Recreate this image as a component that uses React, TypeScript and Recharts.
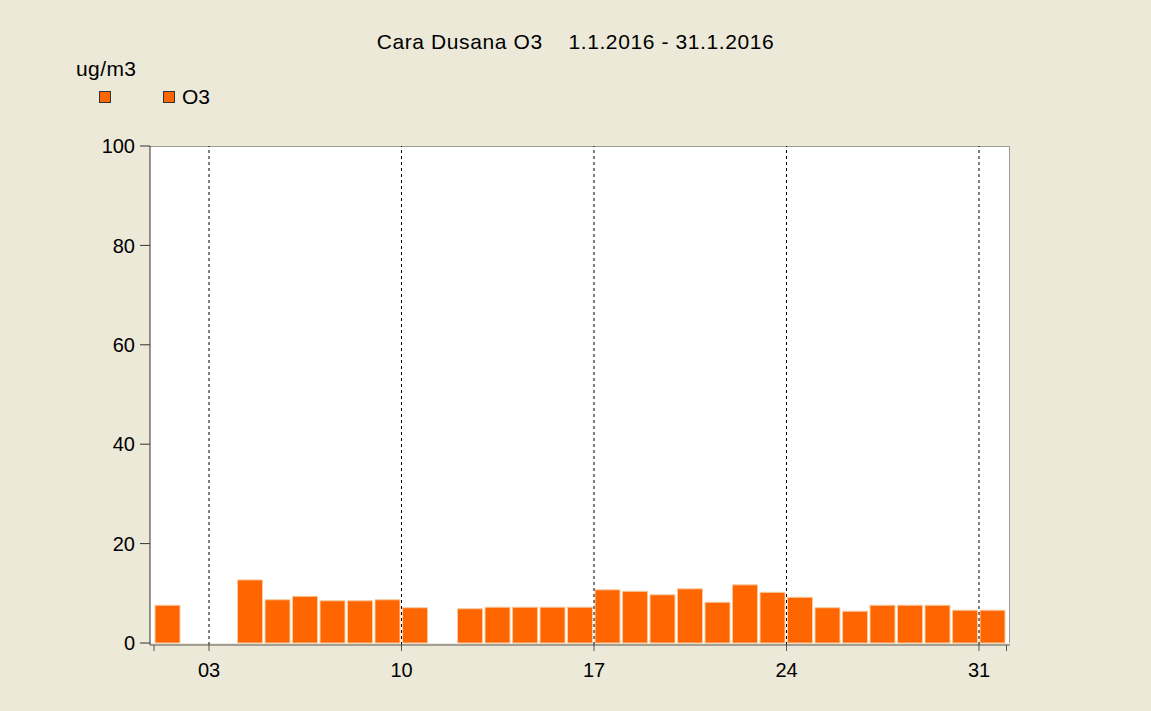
import { BarChart, Bar, XAxis, YAxis, ReferenceLine } from "recharts";

// daily O3 means, January 2016 (null = no measurement)
const days = [
  1, 2, 3, 4, 5, 6, 7, 8, 9, 10, 11, 12, 13, 14, 15, 16,
  17, 18, 19, 20, 21, 22, 23, 24, 25, 26, 27, 28, 29, 30, 31,
];
const o3Values = [
  7.6, null, null, 12.7, 8.7, 9.4, 8.5, 8.5, 8.7, 7.1, null, 6.9, 7.2, 7.2, 7.2, 7.2,
  10.7, 10.4, 9.7, 10.9, 8.2, 11.7, 10.2, 9.2, 7.1, 6.4, 7.6, 7.6, 7.6, 6.6, 6.6,
];
const weekTicks = [3, 10, 17, 24, 31];
const yTicks = [0, 20, 40, 60, 80, 100];

const BG = "#ECE9D8";
const FONT = "'Liberation Sans', Arial, sans-serif";
const BAR_COLOR = "#FF6600";

const W = 1151;
const H = 711;
const PLOT_LEFT = 150;
const PLOT_RIGHT = 1010;
const PLOT_TOP = 146;
const PLOT_BOTTOM = 645;

// bar sits in the middle of its day slot
const chartData = days.map((d, i) => ({ x: d + 0.5, o3: o3Values[i] }));

const pad2 = (v: number) => String(v).padStart(2, "0");

const App = () => {
  return (
    <div
      style={{
        position: "fixed",
        left: 0,
        top: 0,
        width: W,
        height: H,
        background: BG,
        fontFamily: FONT,
        color: "#000",
        overflow: "hidden",
      }}
    >
      {/* white plot background with light frame */}
      <div
        style={{
          position: "absolute",
          left: PLOT_LEFT,
          top: PLOT_TOP,
          width: PLOT_RIGHT - PLOT_LEFT,
          height: PLOT_BOTTOM - 2 - PLOT_TOP,
          background: "#fff",
          borderTop: "1px solid #9c9c98",
          borderRight: "1px solid #9c9c98",
          boxSizing: "border-box",
        }}
      />

      <div
        style={{
          position: "absolute",
          left: 0,
          width: W,
          top: 30,
          textAlign: "center",
          fontSize: 21,
          letterSpacing: 0.6,
          whiteSpace: "pre",
        }}
      >
        {"Cara Dusana O3    1.1.2016 - 31.1.2016"}
      </div>

      {/* unit + legend */}
      <div style={{ position: "absolute", left: 76, top: 57, fontSize: 21, letterSpacing: 0.4 }}>ug/m3</div>
      <div style={{ position: "absolute", left: 99, top: 91, display: "flex", alignItems: "center", fontSize: 21 }}>
        <span
          style={{
            width: 10,
            height: 10,
            background: BAR_COLOR,
            border: "1px solid #333",
            display: "inline-block",
          }}
        />
        <span
          style={{
            width: 10,
            height: 10,
            background: BAR_COLOR,
            border: "1px solid #333",
            display: "inline-block",
            marginLeft: 52,
          }}
        />
        <span style={{ marginLeft: 7, lineHeight: "12px" }}>O3</span>
      </div>

      <div style={{ position: "absolute", left: 0, top: 0 }}>
        <BarChart
          width={W}
          height={H}
          data={chartData}
          margin={{ top: PLOT_TOP, right: W - PLOT_RIGHT, left: 0, bottom: 6 }}
        >
          <XAxis
            dataKey="x"
            type="number"
            domain={[1, 32]}
            ticks={[1, ...weekTicks, 32]}
            tickFormatter={(v: number) => (v === 1 || v === 32 ? "" : pad2(v))}
            padding={{ left: 4, right: 3.5 }}
            height={H - 6 - PLOT_BOTTOM}
            tickSize={6}
            tickMargin={12}
            stroke="#555"
            tick={{ fill: "#000", fontSize: 20, fontFamily: FONT }}
            allowDataOverflow
          />
          <YAxis
            type="number"
            domain={[0, 100]}
            ticks={yTicks}
            width={PLOT_LEFT}
            padding={{ bottom: 2 }}
            tickSize={10}
            tickMargin={5}
            stroke="#333"
            tick={{ fill: "#000", fontSize: 20, fontFamily: FONT }}
          />
          {weekTicks.map((t) => (
            <ReferenceLine key={t} x={t} stroke="#000" strokeDasharray="3 3" strokeWidth={1} />
          ))}
          <Bar
            dataKey="o3"
            fill={BAR_COLOR}
            stroke="#F6CBA2"
            strokeWidth={1}
            barSize={25}
            isAnimationActive={false}
          />
        </BarChart>
      </div>
    </div>
  );
};

export default App;
